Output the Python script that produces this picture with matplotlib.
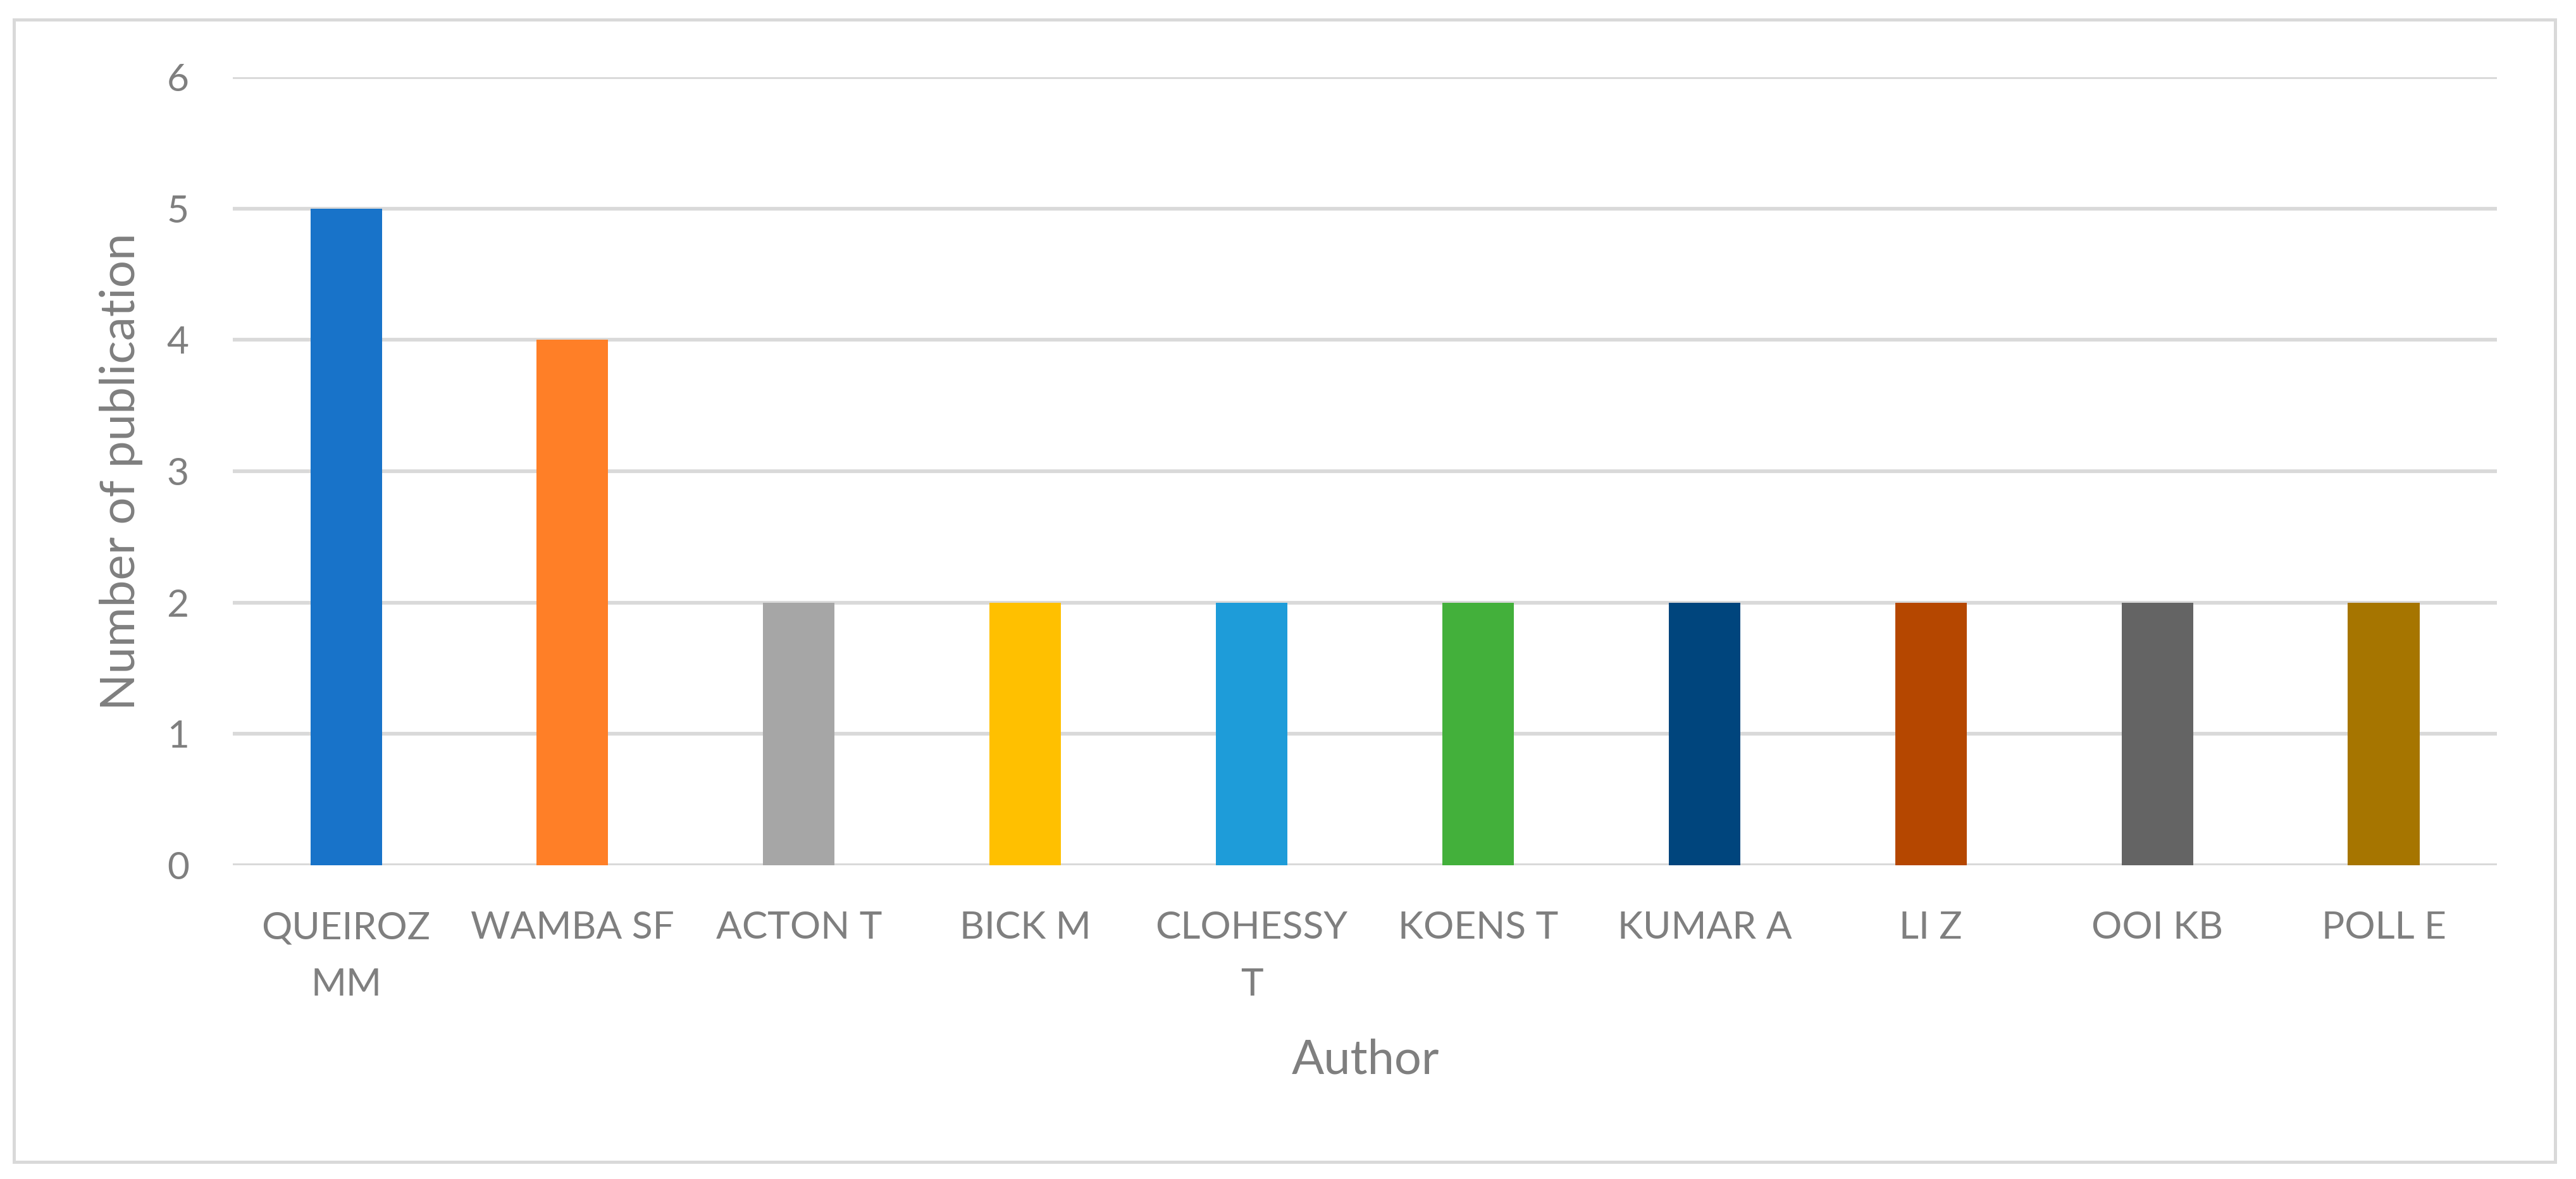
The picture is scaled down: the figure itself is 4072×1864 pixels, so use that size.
import matplotlib
matplotlib.use('Agg')
import matplotlib.pyplot as plt
from matplotlib.patches import Rectangle

# data
authors = ['QUEIROZ\nMM', 'WAMBA SF', 'ACTON T', 'BICK M', 'CLOHESSY\nT',
           'KOENS T', 'KUMAR A', 'LI Z', 'OOI KB', 'POLL E']
publications = [5, 4, 2, 2, 2, 2, 2, 2, 2, 2]
bar_colors = ['#1873C9', '#FF7F27', '#A6A6A6', '#FFC000', '#1E9CD9',
              '#43B03B', '#00457D', '#B54700', '#646464', '#A67500']
y_ticks = [0, 1, 2, 3, 4, 5, 6]

plt.rcParams['font.family'] = ['Lato', 'DejaVu Sans']
text_grey = '#7F7F7F'
grid_grey = '#D9D9D9'

fig = plt.figure(figsize=(40.72, 18.64), dpi=100)
ax = fig.add_axes([0.0904, 0.2661, 0.8789, 0.6684])

x = range(len(authors))
ax.bar(x, publications, width=0.316, color=bar_colors, zorder=3)

ax.set_ylim(0, 6)
ax.set_xlim(-0.5, len(authors) - 0.5)
ax.set_yticks(y_ticks)
ax.set_xticks(list(x))
ax.set_xticklabels(authors, linespacing=1.82)

ax.yaxis.grid(True, color=grid_grey, linewidth=4.2, zorder=0)
ax.set_axisbelow(True)
for side in ['top', 'right', 'left', 'bottom']:
    ax.spines[side].set_visible(False)
ax.axhline(0, color=grid_grey, linewidth=4.2, zorder=2)

ax.tick_params(axis='both', length=0, labelsize=43.5, labelcolor=text_grey)
ax.tick_params(axis='x', pad=52)
ax.tick_params(axis='y', pad=50)

fig.text(0.5302, 0.101, 'Author', ha='center', va='center', fontsize=54.5, color=text_grey)
fig.text(0.047, 0.6, 'Number of publication', ha='center', va='center',
         rotation=90, fontsize=55, color=text_grey)

# outer chart border
fig.patches.append(Rectangle((0.0053, 0.0145), 0.9866, 0.9689, transform=fig.transFigure,
                             fill=False, edgecolor=grid_grey, linewidth=3.6))

fig.savefig('out.png', dpi=100)
